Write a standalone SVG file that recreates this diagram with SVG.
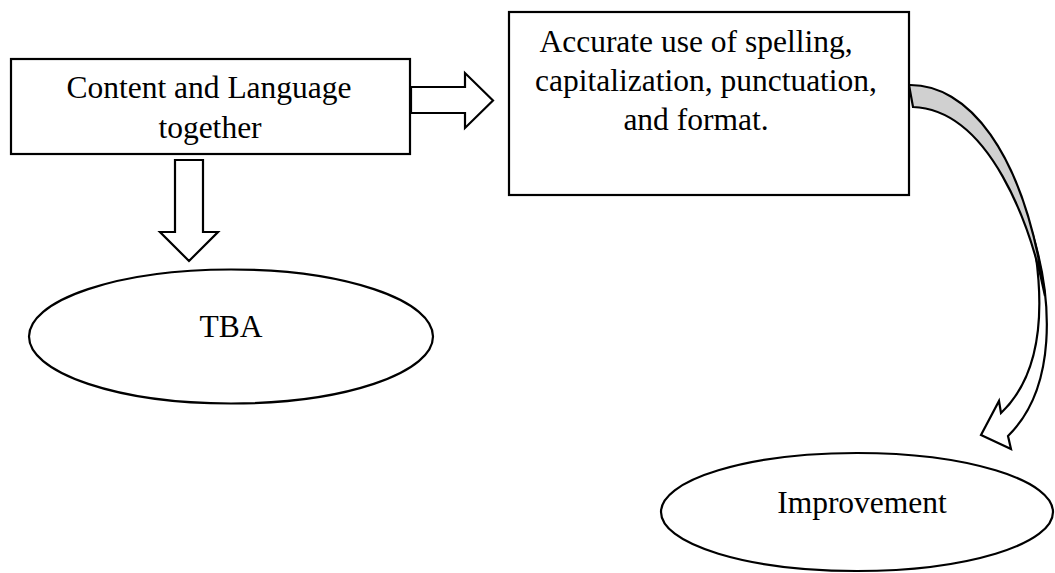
<svg xmlns="http://www.w3.org/2000/svg" width="1055" height="573" viewBox="0 0 1055 573">
  <style>
    .box { fill: #ffffff; stroke: #000000; stroke-width: 2.2; }
    .oval { fill: #ffffff; stroke: #000000; stroke-width: 2.2; }
    .block { fill: #ffffff; stroke: #000000; stroke-width: 2.2; stroke-linejoin: miter; }
    .ribbon { fill: #d0d0d0; stroke: #000000; stroke-width: 2.2; stroke-linejoin: miter; }
    .label { font-family: "Liberation Serif", "Times New Roman", serif; font-size: 31.5px; fill: #000000; text-anchor: middle; }
  </style>

  <rect width="1055" height="573" fill="#ffffff"/>

  <!-- block arrows between the shapes -->
  <g id="connectors">
    <!-- right arrow: box to box -->
    <polygon class="block" points="411,87 465,87 465,73 493,100.5 465,128 465,113 411,113"/>
    <!-- down arrow: box to oval -->
    <polygon class="block" points="175,160 203,160 203,232 218,232 189,261 160,232 175,232"/>
    <!-- curved arrow: white front face with head -->
    <path class="block" d="M1032,232 C1053,300 1057,388 1008,436 L1011,449 L981,435 L999,401 L1001,413 C1040,376 1047,312 1032,232 Z"/>
    <!-- curved arrow: shaded back face leaving the box -->
    <path class="ribbon" d="M909,85 C966,84 1024,148 1045,296 C1031,226 990,110 913,107 Z"/>
  </g>

  <g id="node-content-language">
    <rect class="box" x="11" y="59" width="399" height="95"/>
    <text class="label" x="209" y="98">Content and Language</text>
    <text class="label" x="210" y="138">together</text>
  </g>

  <g id="node-accuracy">
    <rect class="box" x="509" y="12" width="400" height="183"/>
    <text class="label" x="696" y="52">Accurate use of spelling,</text>
    <text class="label" x="706" y="91">capitalization, punctuation,</text>
    <text class="label" x="696" y="130">and format.</text>
  </g>

  <g id="node-tba">
    <ellipse class="oval" cx="231" cy="336.5" rx="202" ry="67"/>
    <text class="label" x="231" y="337">TBA</text>
  </g>

  <g id="node-improvement">
    <ellipse class="oval" cx="857" cy="512" rx="196" ry="59"/>
    <text class="label" x="862" y="513">Improvement</text>
  </g>
</svg>
